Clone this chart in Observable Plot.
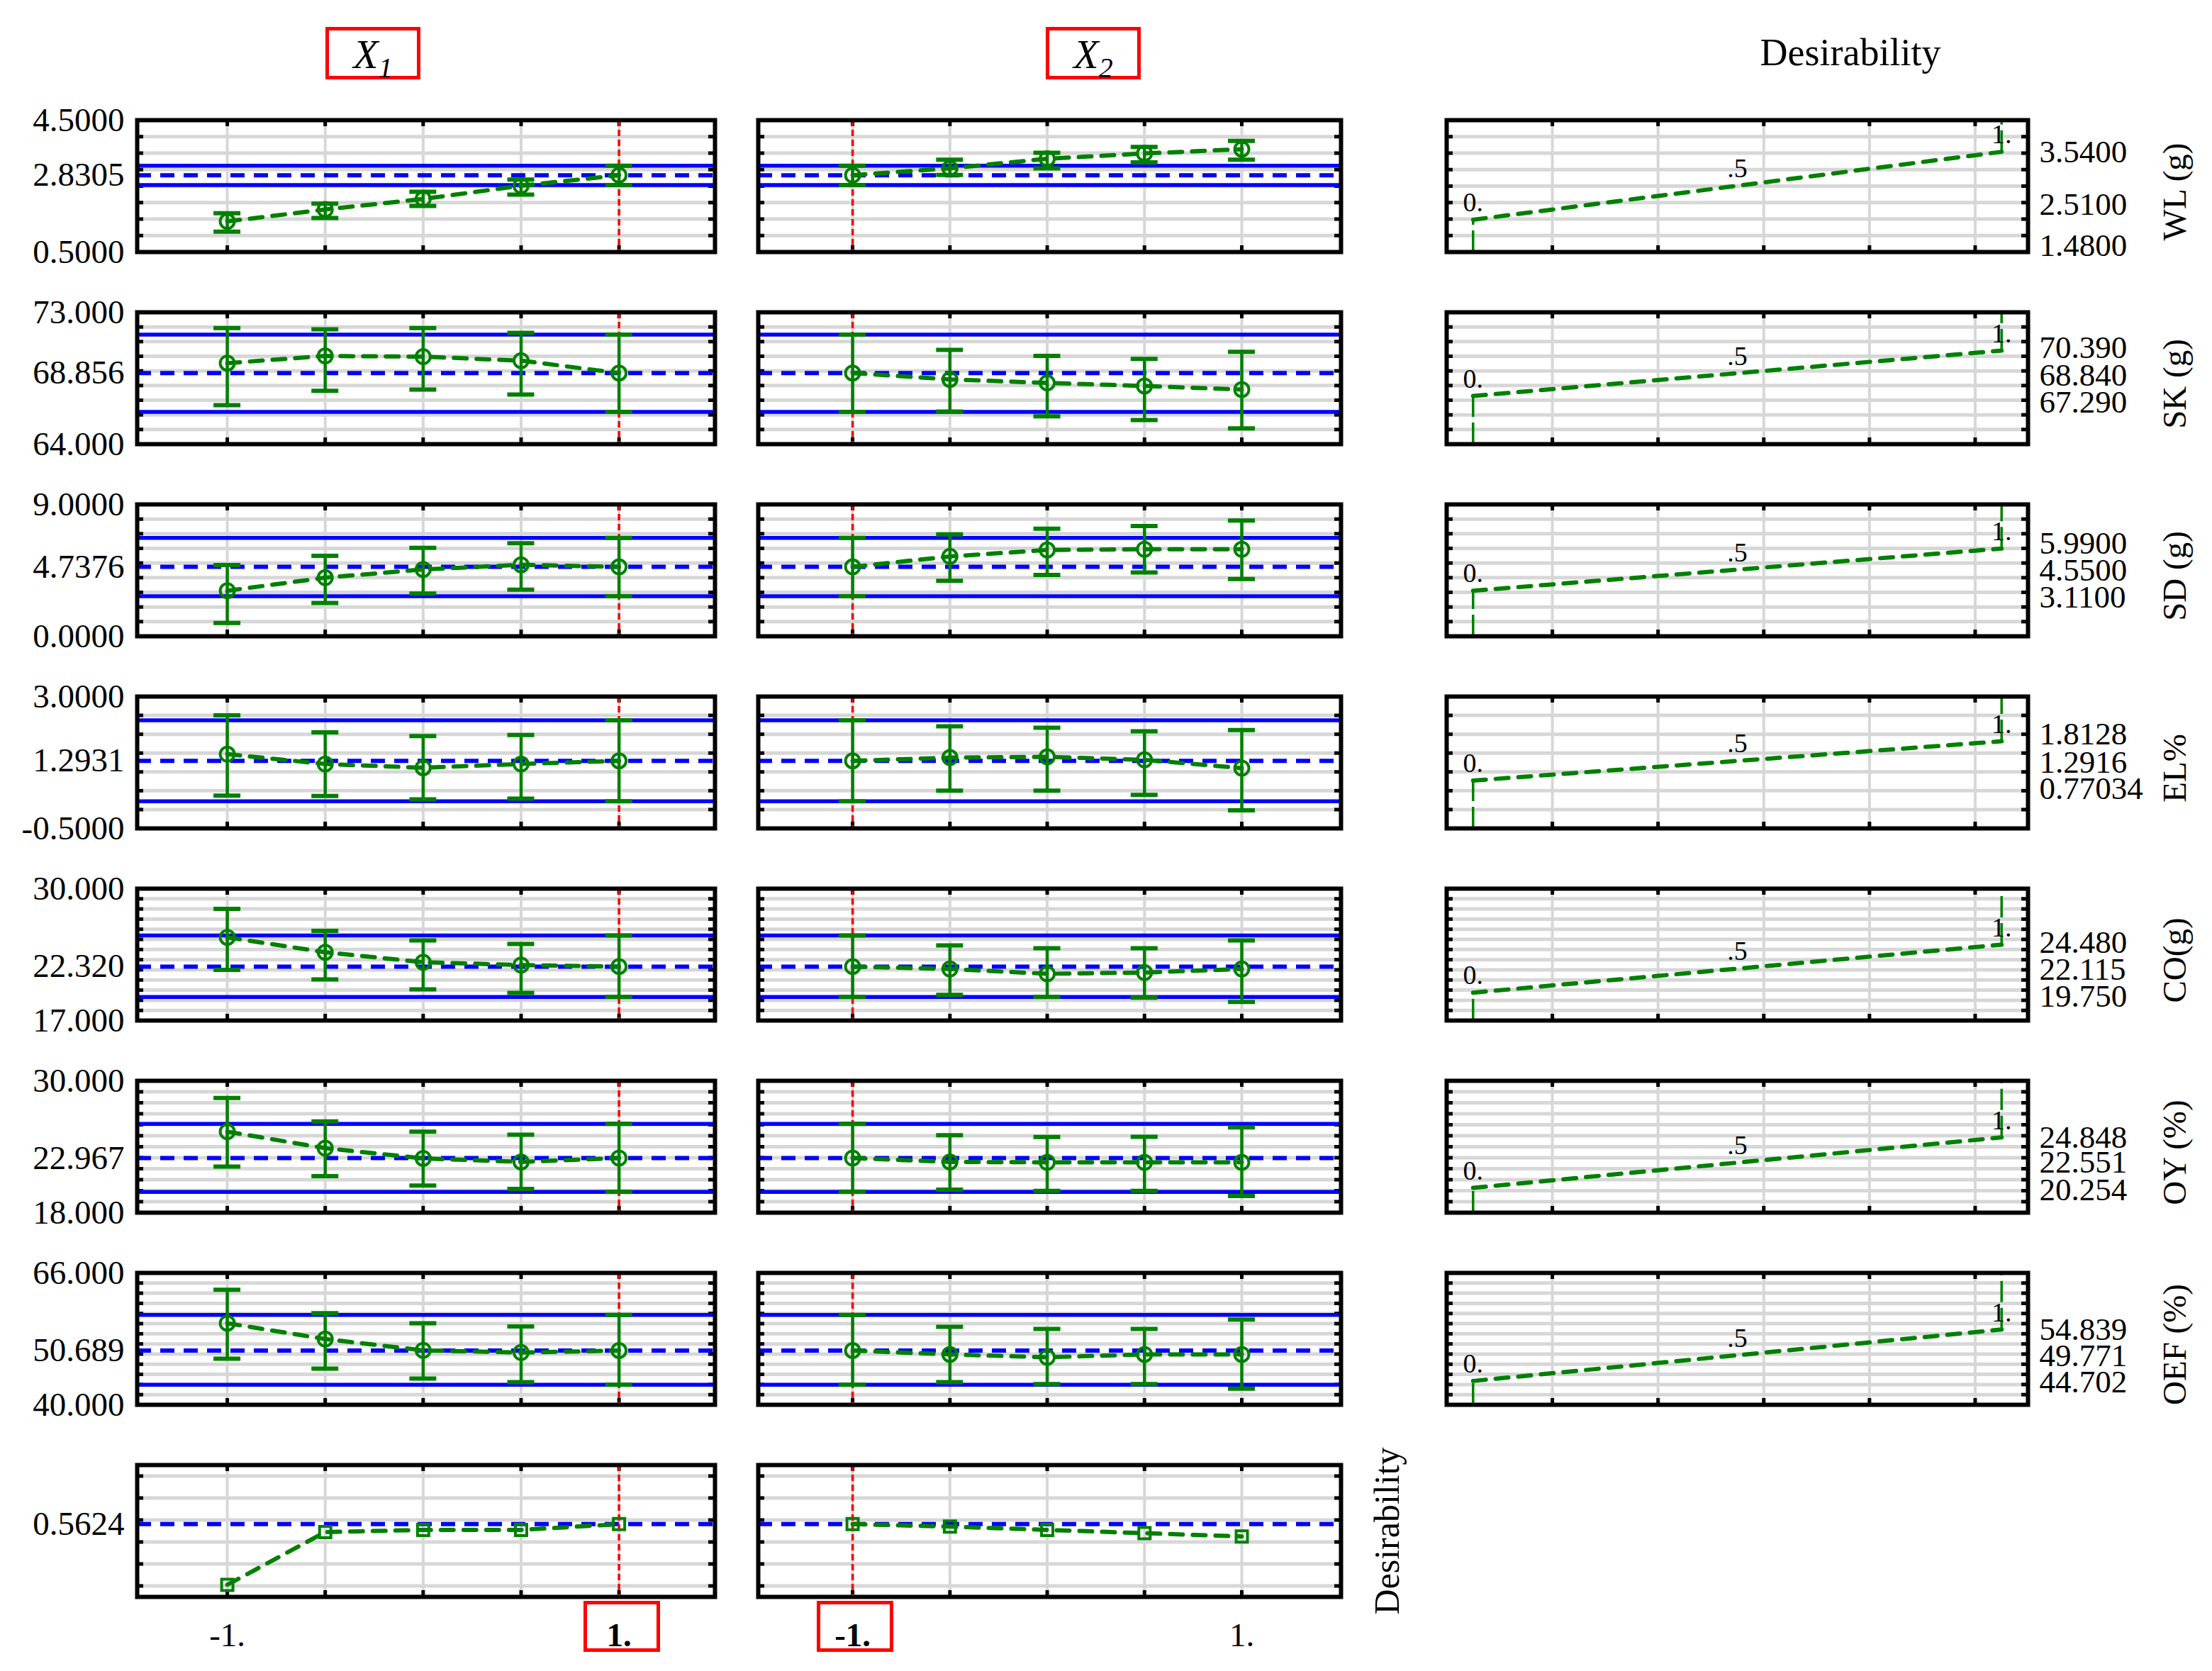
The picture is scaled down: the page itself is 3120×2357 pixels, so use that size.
<!DOCTYPE html>
<html>
<head>
<meta charset="utf-8">
<script src="https://cdn.jsdelivr.net/npm/d3@7"></script>
<script src="https://cdn.jsdelivr.net/npm/@observablehq/plot@0.6"></script>
<style>
  html, body { margin: 0; padding: 0; background: #fff; }
  #chart { position: relative; width: 3120px; height: 2357px; background: #fff; overflow: hidden;
           font-family: 'Liberation Serif', 'Times New Roman', serif; color: #000; }
  .abs { position: absolute; }
  .box { position: absolute; border: 5px solid #ff0000; box-sizing: border-box; }
</style>
</head>
<body>
<div id="chart"></div>
<script>
// ---------------- DATA ----------------
const levels = [-1, -0.5, 0, 0.5, 1];
const factors = ["X1", "X2"];
const settings = [1, -1];                 // current factor settings (red line)
const responses = ["WL (g)", "SK (g)", "SD (g)", "EL%", "CO(g)", "OY (%)", "OEF (%)"];

const yMin = [0.5, 64, 0, -0.5, 17, 18, 40];
const yMax = [4.5, 73, 9, 3, 30, 30, 66];
const gridStep = [0.5, 1, 1, 0.5, 1, 1, 2];
const yMinLabel = ["0.5000", "64.000", "0.0000", "-0.5000", "17.000", "18.000", "40.000"];
const yMaxLabel = ["4.5000", "73.000", "9.0000", "3.0000", "30.000", "30.000", "66.000"];
const current = [2.8305, 68.856, 4.7376, 1.2931, 22.320, 22.967, 50.689];
const currentLabel = ["2.8305", "68.856", "4.7376", "1.2931", "22.320", "22.967", "50.689"];
const ciLow = [2.53, 66.20, 2.73, 0.22, 19.33, 19.89, 43.96];
const ciHigh = [3.12, 71.47, 6.71, 2.37, 25.39, 26.08, 57.71];

// X1 profile (mean, upper, lower) per response
const x1Mean = [
  [1.43, 1.79, 2.11, 2.51, 2.8305],
  [69.53, 70.02, 69.97, 69.70, 68.856],
  [3.11, 4.00, 4.56, 4.88, 4.7376],
  [1.47, 1.21, 1.11, 1.21, 1.2931],
  [25.20, 23.73, 22.75, 22.47, 22.320],
  [25.37, 23.87, 22.94, 22.62, 22.967],
  [56.08, 52.96, 50.73, 50.31, 50.689]
];
const x1Upper = [
  [1.68, 1.97, 2.33, 2.70, 3.12],
  [71.92, 71.84, 71.92, 71.60, 71.47],
  [4.86, 5.49, 6.04, 6.35, 6.71],
  [2.50, 2.05, 1.95, 1.98, 2.37],
  [28.00, 25.84, 24.90, 24.55, 25.39],
  [28.43, 26.30, 25.37, 25.09, 26.08],
  [62.67, 58.08, 56.08, 55.43, 57.71]
];
const x1Lower = [
  [1.12, 1.53, 1.90, 2.24, 2.53],
  [66.66, 67.64, 67.73, 67.39, 66.20],
  [0.91, 2.28, 2.92, 3.18, 2.73],
  [0.37, 0.36, 0.27, 0.29, 0.22],
  [21.99, 21.06, 20.08, 19.73, 19.33],
  [22.19, 21.33, 20.47, 20.16, 19.89],
  [49.08, 47.13, 45.17, 44.47, 43.96]
];
// X2 profile
const x2Mean = [
  [2.8305, 3.04, 3.33, 3.49, 3.62],
  [68.856, 68.42, 68.18, 67.97, 67.73],
  [4.7376, 5.45, 5.89, 5.94, 5.94],
  [1.2931, 1.38, 1.40, 1.32, 1.10],
  [22.320, 22.08, 21.61, 21.73, 22.08],
  [22.967, 22.62, 22.58, 22.58, 22.58],
  [50.689, 49.93, 49.37, 49.93, 49.93]
];
const x2Upper = [
  [3.12, 3.30, 3.51, 3.69, 3.87],
  [71.47, 70.43, 70.03, 69.82, 70.30],
  [6.71, 6.95, 7.34, 7.53, 7.90],
  [2.37, 2.21, 2.17, 2.08, 2.11],
  [25.39, 24.41, 24.13, 24.13, 24.90],
  [26.08, 25.05, 24.88, 24.90, 25.76],
  [57.71, 55.38, 54.96, 54.96, 56.82]
];
const x2Lower = [
  [2.53, 2.84, 3.04, 3.22, 3.30],
  [66.20, 66.22, 65.90, 65.65, 65.08],
  [2.73, 3.79, 4.19, 4.35, 3.91],
  [0.22, 0.50, 0.50, 0.39, -0.02],
  [19.33, 19.54, 19.33, 19.26, 18.84],
  [19.89, 20.10, 19.99, 19.99, 19.52],
  [43.96, 44.47, 44.10, 44.10, 43.19]
];

// overall desirability profile
const desDomain = [-0.1, 1.1];
const desGrid = [0, 0.2, 0.4, 0.6, 0.8, 1.0];
const desCurrent = 0.5624;
const desCurrentLabel = "0.5624";
const desX1 = [0.01, 0.49, 0.51, 0.51, 0.5624];
const desX2 = [0.5624, 0.54, 0.51, 0.48, 0.45];
const xTickLabels = ["-1.", "1."];

// individual desirability functions (response value at d = 0, .5, 1)
const dLow = [1.48, 67.29, 3.11, 0.77034, 19.75, 20.254, 44.702];
const dMid = [2.51, 68.84, 4.55, 1.2916, 22.115, 22.551, 49.771];
const dHigh = [3.54, 70.39, 5.99, 1.8128, 24.48, 24.848, 54.839];
const dLowLabel = ["1.4800", "67.290", "3.1100", "0.77034", "19.750", "20.254", "44.702"];
const dMidLabel = ["2.5100", "68.840", "4.5500", "1.2916", "22.115", "22.551", "49.771"];
const dHighLabel = ["3.5400", "70.390", "5.9900", "1.8128", "24.480", "24.848", "54.839"];
const dTickLabels = ["0.", ".5", "1."];
const dGrid = [0.15, 0.35, 0.55, 0.75, 0.95];

// ---------------- LAYOUT / STYLE ----------------
const FONT = "'Liberation Serif','Times New Roman',serif";
const GREEN = "#008000", BLUE = "#0000ff", RED = "#ff0000", GRID = "#d7d7d7";
const ROW_TOP = 169, ROW_PITCH = 271, PANEL_H = 186, TICK = 9, CAP = 19;
const FS = 47;
const COLS = [
  {left: 193, width: 815, domain: [-1.46, 1.49]},
  {left: 1069, width: 822, domain: [-1.485, 1.51]},
  {left: 2040, width: 820, domain: [-0.05, 1.05]}
];
// vertical nudges (px) of the stacked right-hand labels [high, mid, low]
const LABEL_DY = [[0, 27, 37], [-4, 3, 9], [-7, 1, 9], [-10, 2, 12], [-3, 1, 5], [0, 0, 3], [0, 1, 2]];

const chart = document.getElementById("chart");
const rowTop = r => ROW_TOP + r * ROW_PITCH;
const baseStyle = {fontFamily: FONT, background: "transparent", overflow: "visible", color: "#000"};

function place(svg, left, top) {
  const d = document.createElement("div");
  d.className = "abs";
  d.style.left = left + "px";
  d.style.top = top + "px";
  d.appendChild(svg);
  chart.appendChild(d);
}
function gridValues(r) {
  return d3.range(yMin[r] + gridStep[r], yMax[r] - gridStep[r] / 2, gridStep[r]).map(v => +v.toFixed(6));
}
function edgeTicks(xd, yd, xGrid, yGrid, w) {
  const kx = (xd[1] - xd[0]) / w, ky = (yd[1] - yd[0]) / PANEL_H;
  const st = {stroke: "black", strokeWidth: 5};
  return [
    Plot.ruleY(yGrid, {x1: xd[0], x2: xd[0] + TICK * kx, ...st}),
    Plot.ruleY(yGrid, {x1: xd[1] - TICK * kx, x2: xd[1], ...st}),
    Plot.ruleX(xGrid, {y1: yd[1], y2: yd[1] - TICK * ky, ...st}),
    Plot.ruleX(xGrid, {y1: yd[0], y2: yd[0] + TICK * ky, ...st})
  ];
}

// ---------------- FACTOR PROFILE PANELS ----------------
function factorPanel(ci, r) {
  const c = COLS[ci];
  const des = r === 7;
  const xd = c.domain;
  const yd = des ? desDomain : [yMin[r], yMax[r]];
  const grid = des ? desGrid : gridValues(r);
  const cur = des ? desCurrent : current[r];
  const means = des ? (ci === 0 ? desX1 : desX2) : (ci === 0 ? x1Mean : x2Mean)[r];
  const ups = des ? null : (ci === 0 ? x1Upper : x2Upper)[r];
  const los = des ? null : (ci === 0 ? x1Lower : x2Lower)[r];
  const data = levels.map((x, i) => ({x, mean: means[i], hi: ups ? ups[i] : null, lo: los ? los[i] : null}));

  const mL = ci === 0 ? 193 : 12;
  const mR = (ci === 1 && des) ? 110 : 12;
  const mT = 30, mB = des ? 110 : 30;
  const kx = (xd[1] - xd[0]) / c.width;

  const marks = [
    Plot.ruleY(grid, {stroke: GRID, strokeWidth: 5}),
    Plot.ruleX(levels, {stroke: GRID, strokeWidth: 4}),
    ...edgeTicks(xd, yd, levels, grid, c.width)
  ];
  if (!des) marks.push(Plot.ruleY([ciLow[r], ciHigh[r]], {stroke: BLUE, strokeWidth: 5.5}));
  marks.push(Plot.ruleY([cur], {stroke: BLUE, strokeWidth: 6, strokeDasharray: "20,13"}));
  marks.push(Plot.ruleX([settings[ci]], {stroke: RED, strokeWidth: 3.5, strokeDasharray: "9,5"}));
  if (!des) {
    marks.push(Plot.ruleX(data, {x: "x", y1: "lo", y2: "hi", stroke: GREEN, strokeWidth: 4.5}));
    marks.push(Plot.ruleY(data, {y: "hi", x1: d => d.x - CAP * kx, x2: d => d.x + CAP * kx, stroke: GREEN, strokeWidth: 6}));
    marks.push(Plot.ruleY(data, {y: "lo", x1: d => d.x - CAP * kx, x2: d => d.x + CAP * kx, stroke: GREEN, strokeWidth: 6}));
  }
  marks.push(Plot.line(data, {x: "x", y: "mean", stroke: GREEN, strokeWidth: 6, strokeDasharray: "18,14"}));
  marks.push(Plot.dot(data, {x: "x", y: "mean", r: des ? 9 : 10, symbol: des ? "square" : "circle",
                             stroke: GREEN, strokeWidth: 4, fill: "none"}));
  marks.push(Plot.frame({stroke: "black", strokeWidth: 6}));

  if (ci === 0) {
    const lab = des ? [{v: cur, s: desCurrentLabel}]
                    : [{v: yMax[r], s: yMaxLabel[r]}, {v: cur, s: currentLabel[r]}, {v: yMin[r], s: yMinLabel[r]}];
    marks.push(Plot.text(lab, {y: "v", text: "s", frameAnchor: "left", textAnchor: "end", lineAnchor: "middle",
                               dx: -18, fontSize: FS, fill: "black"}));
  }
  if (des) {
    const ends = [{x: -1, s: xTickLabels[0]}, {x: 1, s: xTickLabels[1]}];
    const sel = ends.filter(e => e.x === settings[ci]);
    const other = ends.filter(e => e.x !== settings[ci]);
    const common = {x: "x", text: "s", frameAnchor: "bottom", lineAnchor: "middle", textAnchor: "middle",
                    dy: 54, fontSize: FS, fill: "black"};
    marks.push(Plot.text(other, common));
    marks.push(Plot.text(sel, {...common, fontWeight: "bold"}));
    if (ci === 1) {
      marks.push(Plot.text(["Desirability"], {text: d => d, frameAnchor: "right", textAnchor: "middle",
                                              lineAnchor: "middle", dx: 65, rotate: -90,
                                              fontSize: 50, fill: "black"}));
    }
  }

  const svg = Plot.plot({
    width: mL + c.width + mR, height: mT + PANEL_H + mB,
    marginLeft: mL, marginRight: mR, marginTop: mT, marginBottom: mB,
    x: {domain: xd, axis: null}, y: {domain: yd, axis: null},
    style: baseStyle, marks
  });
  const left = c.left - mL, top = rowTop(r) - mT;
  place(svg, left, top);

  if (des) {
    const px = svg.scale("x").apply(settings[ci]);
    const b = document.createElement("div");
    b.className = "box";
    b.style.left = (left + px + 4 - 54) + "px";
    b.style.top = (rowTop(r) + PANEL_H + 6) + "px";
    b.style.width = "108px";
    b.style.height = "72px";
    chart.appendChild(b);
  }
}

// ---------------- DESIRABILITY FUNCTION PANELS ----------------
function desPanel(r) {
  const c = COLS[2];
  const xd = c.domain, yd = [yMin[r], yMax[r]];
  const grid = gridValues(r);
  const mL = 10, mR = 260, mT = 30, mB = 30;
  const curve = [{d: 0, v: dLow[r]}, {d: 0.5, v: dMid[r]}, {d: 1, v: dHigh[r]}];
  const tickLab = [{d: 0, v: dLow[r], s: dTickLabels[0]}, {d: 0.5, v: dMid[r], s: dTickLabels[1]}, {d: 1, v: dHigh[r], s: dTickLabels[2]}];
  const right = [{v: dHigh[r], s: dHighLabel[r]}, {v: dMid[r], s: dMidLabel[r]}, {v: dLow[r], s: dLowLabel[r]}];

  const marks = [
    Plot.ruleY(grid, {stroke: GRID, strokeWidth: 5}),
    Plot.ruleX(dGrid, {stroke: GRID, strokeWidth: 4}),
    ...edgeTicks(xd, yd, dGrid, grid, c.width),
    Plot.ruleX([0], {y1: yd[0], y2: dLow[r], stroke: GREEN, strokeWidth: 3.5, strokeDasharray: "30,8"}),
    Plot.ruleX([1], {y1: dHigh[r], y2: yd[1], stroke: GREEN, strokeWidth: 3.5, strokeDasharray: "30,8"}),
    Plot.line(curve, {x: "d", y: "v", stroke: GREEN, strokeWidth: 6, strokeDasharray: "18,14"}),
    Plot.text(tickLab, {x: "d", y: "v", text: "s", dy: -24, fontSize: 38, fill: "black"}),
    Plot.frame({stroke: "black", strokeWidth: 6}),
    ...right.map((d, i) => Plot.text([d], {y: "v", text: "s", frameAnchor: "right", textAnchor: "start",
                                            lineAnchor: "middle", dx: 16, dy: LABEL_DY[r][i],
                                            fontSize: 45, fill: "black"})),
    Plot.text([responses[r]], {text: d => d, frameAnchor: "right", textAnchor: "middle", lineAnchor: "middle",
                               dx: 207, dy: 8, rotate: -90, fontSize: FS, fill: "black"})
  ];
  const svg = Plot.plot({
    width: mL + c.width + mR, height: mT + PANEL_H + mB,
    marginLeft: mL, marginRight: mR, marginTop: mT, marginBottom: mB,
    x: {domain: xd, axis: null}, y: {domain: yd, axis: null},
    style: baseStyle, marks
  });
  place(svg, c.left - mL, rowTop(r) - mT);
}

// ---------------- HEADERS ----------------
function headerBox(name, left) {
  const b = document.createElement("div");
  b.className = "box";
  b.style.left = left + "px";
  b.style.top = "38px";
  b.style.width = "134px";
  b.style.height = "74px";
  const t = document.createElement("div");
  t.style.cssText = "position:absolute;left:0;right:0;top:6px;text-align:center;font-style:italic;font-size:58px;line-height:56px;white-space:nowrap;";
  t.innerHTML = name[0] + '<span style="font-size:40px;position:relative;top:13px;">' + name.slice(1) + '</span>';
  b.appendChild(t);
  chart.appendChild(b);
}
headerBox(factors[0], 459);
headerBox(factors[1], 1475);
const dh = document.createElement("div");
dh.className = "abs";
dh.style.cssText = "position:absolute;left:2310px;width:600px;top:47px;text-align:center;font-size:54px;line-height:54px;";
dh.textContent = "Desirability";
chart.appendChild(dh);

// ---------------- BUILD ----------------
for (let r = 0; r < 8; r++) {
  factorPanel(0, r);
  factorPanel(1, r);
  if (r < 7) desPanel(r);
}
</script>
</body>
</html>
